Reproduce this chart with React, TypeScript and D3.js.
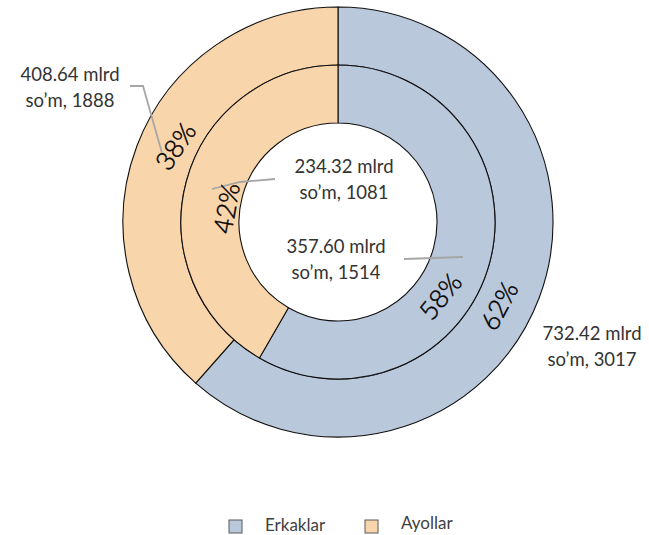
import React from "react";
import * as d3 from "d3";

const categories = ["Erkaklar", "Ayollar"];
const outerCounts = [3017, 1888];
const innerCounts = [1514, 1081];
const outerAmounts = ["732.42", "408.64"];
const innerAmounts = ["357.60", "234.32"];
const colors = ["#B9C8DB", "#F8D5AB"];

const W = 649;
const H = 535;
const cx = 338;
const cy = 222;
const R_OUT = 215;
const R_MID = 157;
const R_IN = 99;

// label layout (annotation placement, in px)
const outerValuePos = [
  { x: 592, y: 340 },
  { x: 70, y: 81 },
];
const innerValuePos = [
  { x: 336, y: 253 },
  { x: 344, y: 173 },
];
const outerPctPos = [
  { a: 117.5, r: 181, rot: -62 },
  { a: -65, r: 180, rot: -56 },
];
const innerPctPos = [
  { a: 126, r: 126, rot: -51 },
  { a: -83, r: 113, rot: -80 },
];
const leaders: [number, number][][] = [
  [
    [130, 86],
    [143, 86],
    [162, 153],
  ],
  [
    [212, 189],
    [240, 182],
    [275, 179],
  ],
  [
    [404, 259],
    [463, 257],
  ],
];

const FONT = "Lato, 'Open Sans', sans-serif";

export default function App() {
  const pie = d3
    .pie<number>()
    .sort(null)
    .startAngle(0)
    .endAngle(2 * Math.PI);
  const outerArcs = pie(outerCounts);
  const innerArcs = pie(innerCounts);
  const arcOuter = d3.arc<d3.PieArcDatum<number>>().innerRadius(R_MID).outerRadius(R_OUT);
  const arcInner = d3.arc<d3.PieArcDatum<number>>().innerRadius(R_IN).outerRadius(R_MID);
  const outerTotal = d3.sum(outerCounts);
  const innerTotal = d3.sum(innerCounts);
  const polar = (aDeg: number, r: number) => {
    const a = (aDeg * Math.PI) / 180;
    return [cx + r * Math.sin(a), cy - r * Math.cos(a)];
  };
  const line = d3.line();

  const pctText = (key: string, p: { a: number; r: number; rot: number }, label: string) => {
    const [x, y] = polar(p.a, p.r);
    return (
      <text
        key={key}
        transform={`translate(${x},${y}) rotate(${p.rot})`}
        textAnchor="middle"
        dominantBaseline="central"
        fontSize={26}
        fontWeight={300}
        fill="#000"
        stroke="#000"
        strokeWidth={0.45}
      >
        {label}
      </text>
    );
  };

  return (
    <svg
      width={W}
      height={H}
      style={{ position: "absolute", left: 0, top: 0, background: "#fff" }}
      fontFamily={FONT}
    >
      <g transform={`translate(${cx},${cy})`}>
        {outerArcs.map((d, i) => (
          <path key={"o" + i} d={arcOuter(d) || ""} fill={colors[i]} stroke="#111" strokeWidth={1.1} />
        ))}
        {innerArcs.map((d, i) => (
          <path key={"i" + i} d={arcInner(d) || ""} fill={colors[i]} stroke="#111" strokeWidth={1.1} />
        ))}
      </g>
      {leaders.map((pts, i) => (
        <path key={"l" + i} d={line(pts) || ""} fill="none" stroke="#A6A6A6" strokeWidth={1.8} />
      ))}
      {outerCounts.map((v, i) =>
        pctText("op" + i, outerPctPos[i], `${Math.round((v / outerTotal) * 100)}%`)
      )}
      {innerCounts.map((v, i) =>
        pctText("ip" + i, innerPctPos[i], `${Math.round((v / innerTotal) * 100)}%`)
      )}
      {outerCounts.map((v, i) => (
        <text key={"ov" + i} x={outerValuePos[i].x} y={outerValuePos[i].y} textAnchor="middle" fontSize={18.5} fill="#333">
          <tspan x={outerValuePos[i].x}>{outerAmounts[i]} mlrd</tspan>
          <tspan x={outerValuePos[i].x} dy={25.5}>{`so\u2019m, ${v}`}</tspan>
        </text>
      ))}
      {innerCounts.map((v, i) => (
        <text key={"iv" + i} x={innerValuePos[i].x} y={innerValuePos[i].y} textAnchor="middle" fontSize={18.5} fill="#333">
          <tspan x={innerValuePos[i].x}>{innerAmounts[i]} mlrd</tspan>
          <tspan x={innerValuePos[i].x} dy={25.5}>{`so\u2019m, ${v}`}</tspan>
        </text>
      ))}
      {categories.map((c, i) => {
        const lx = 229 + i * 136;
        return (
          <g key={"lg" + i}>
            <rect x={lx} y={520} width={13} height={13} fill={colors[i]} stroke="#595959" strokeWidth={1} />
            <text x={lx + 36} y={i === 0 ? 531 : 529} fontSize={17} fill="#404040">
              {c}
            </text>
          </g>
        );
      })}
    </svg>
  );
}
